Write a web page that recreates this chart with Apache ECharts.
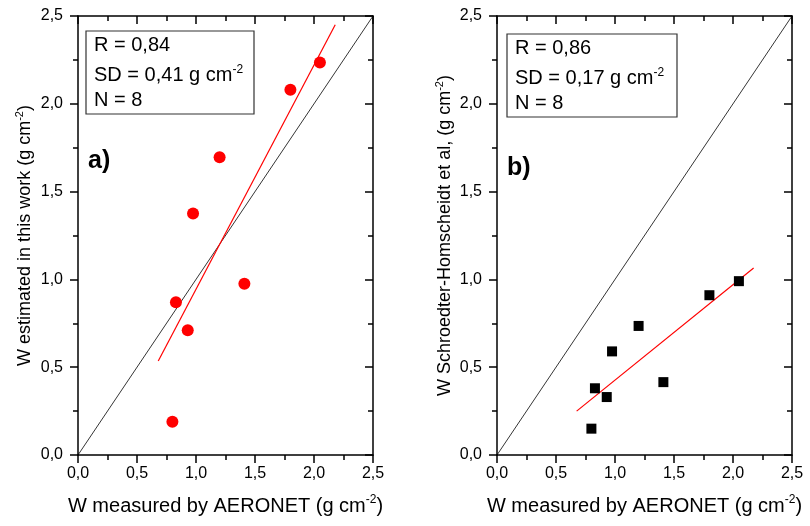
<!DOCTYPE html>
<html>
<head>
<meta charset="utf-8">
<script src="https://cdn.jsdelivr.net/npm/echarts@6/dist/echarts.min.js"></script>
<style>
html,body{margin:0;padding:0;background:#fff;}
#chart{width:810px;height:526px;}
</style>
</head>
<body>
<div id="chart"></div>
<script>
// ---- data ----
const xMeasured   = [0.80, 0.83, 0.93, 0.975, 1.20, 1.41, 1.80, 2.05];
const wThisWork   = [0.19, 0.87, 0.71, 1.375, 1.695, 0.975, 2.08, 2.235];
const wSchroedter = [0.15, 0.38, 0.33, 0.59, 0.735, 0.415, 0.91, 0.99];
const fitXA = [0.68, 2.18];
const fitYA = [0.535, 2.45];
const fitXB = [0.675, 2.175];
const fitYB = [0.25, 1.065];
const diagX = [0, 2.5];
const diagY = [0, 2.5];
const tickLabels = ['0,0', '0,5', '1,0', '1,5', '2,0', '2,5'];

const FONT = 'Liberation Sans, Arial, sans-serif';
const zip = (a, b) => a.map((v, i) => [v, b[i]]);
const fmt = v => tickLabels[Math.round(v / 0.5)] || '';

function baseAxis(gi) {
  return {
    gridIndex: gi, type: 'value', min: 0, max: 2.5, interval: 0.5,
    splitLine: {show: false},
    minorSplitLine: {show: false},
    axisLine: {show: true, onZero: false, lineStyle: {color: '#000', width: 1.5}}
  };
}
function tick(inside, len) {
  return {show: true, inside: inside, length: len, lineStyle: {color: '#000', width: 1.5}};
}
function minor() {
  return {show: true, splitNumber: 2, length: 5, lineStyle: {color: '#000', width: 1.5}};
}

function xLabelled(gi, name) {
  return Object.assign(baseAxis(gi), {
    position: 'bottom',
    axisTick: tick(false, 8),
    axisLabel: {show: true, formatter: fmt, color: '#000', fontSize: 16, fontFamily: FONT, margin: 11},
    name: name, nameLocation: 'middle', nameGap: 39,
    nameTextStyle: {
      color: '#000', fontFamily: FONT,
      rich: {
        m: {fontSize: 20, lineHeight: 24, fontFamily: FONT, color: '#000'},
        s: {fontSize: 12, lineHeight: 12, fontFamily: FONT, color: '#000', verticalAlign: 'top'}
      }
    }
  });
}
function xTop(gi) {
  return Object.assign(baseAxis(gi), {
    position: 'top', axisTick: tick(true, 8), minorTick: minor(), axisLabel: {show: false}
  });
}
function yLabelled(gi, name, gap) {
  return Object.assign(baseAxis(gi), {
    position: 'left',
    axisTick: tick(false, 8),
    axisLabel: {show: true, formatter: fmt, color: '#000', fontSize: 16, fontFamily: FONT, margin: 15},
    name: name, nameLocation: 'middle', nameGap: gap,
    nameTextStyle: {
      color: '#000', fontFamily: FONT,
      rich: {
        m: {fontSize: 18, lineHeight: 22, fontFamily: FONT, color: '#000'},
        s: {fontSize: 11, lineHeight: 11, fontFamily: FONT, color: '#000', verticalAlign: 'top'}
      }
    }
  });
}
function yRight(gi) {
  return Object.assign(baseAxis(gi), {
    position: 'right', axisTick: tick(true, 8), minorTick: minor(), axisLabel: {show: false}
  });
}
// overlay axes carrying the short ticks at quarter steps (bottom / left)
function minorOnly(gi, pos) {
  return Object.assign(baseAxis(gi), {
    position: pos, interval: 0.25,
    axisLine: {show: false},
    axisTick: tick(false, 5),
    axisLabel: {show: false}
  });
}

const xTitle = '{m|W measured by AERONET (g cm}{s|-2}{m|)}';
const yTitleA = '{m|W estimated in this work (g cm}{s|-2}{m|)}';
const yTitleB = '{m|W Schroedter-Homscheidt et al, (g cm}{s|-2}{m|)}';

function statBox(x, y, w, h, lines) {
  const rich = {
    m: {fontSize: 20, lineHeight: 24, fontFamily: FONT, fill: '#000'},
    s: {fontSize: 12, lineHeight: 12, fontFamily: FONT, fill: '#000', verticalAlign: 'top'}
  };
  return {
    type: 'group', silent: true,
    children: [
      {type: 'rect', shape: {x: x, y: y, width: w, height: h},
       style: {fill: '#fff', stroke: '#333', lineWidth: 1.2}},
      {type: 'text', x: x + 8, y: y + 14.5, style: {text: lines[0], rich: rich, verticalAlign: 'middle', align: 'left'}},
      {type: 'text', x: x + 8, y: y + 44.5, style: {text: lines[1], rich: rich, verticalAlign: 'middle', align: 'left'}},
      {type: 'text', x: x + 8, y: y + 69, style: {text: lines[2], rich: rich, verticalAlign: 'middle', align: 'left'}}
    ]
  };
}

const gA = {left: 78, top: 16, width: 295, height: 439};
const gB = {left: 497, top: 16, width: 295, height: 439};

const option = {
  animation: false,
  backgroundColor: '#fff',
  grid: [gA, gB, Object.assign({}, gA), Object.assign({}, gB)],
  xAxis: [xLabelled(0, xTitle), xTop(0), xLabelled(1, xTitle), xTop(1),
          minorOnly(2, 'bottom'), minorOnly(3, 'bottom')],
  yAxis: [yLabelled(0, yTitleA, 42), yRight(0), yLabelled(1, yTitleB, 41), yRight(1),
          minorOnly(2, 'left'), minorOnly(3, 'left')],
  series: [
    {type: 'line', xAxisIndex: 0, yAxisIndex: 0, data: zip(diagX, diagY), showSymbol: false,
     lineStyle: {color: '#000', width: 0.8}, z: 1},
    {type: 'line', xAxisIndex: 0, yAxisIndex: 0, data: zip(fitXA, fitYA), showSymbol: false,
     lineStyle: {color: '#ff0000', width: 1.2}, z: 2},
    {type: 'scatter', xAxisIndex: 0, yAxisIndex: 0, data: zip(xMeasured, wThisWork),
     symbol: 'circle', symbolSize: 12, itemStyle: {color: '#ff0000', opacity: 1}, z: 3},
    {type: 'line', xAxisIndex: 2, yAxisIndex: 2, data: zip(diagX, diagY), showSymbol: false,
     lineStyle: {color: '#000', width: 0.8}, z: 1},
    {type: 'line', xAxisIndex: 2, yAxisIndex: 2, data: zip(fitXB, fitYB), showSymbol: false,
     lineStyle: {color: '#ff0000', width: 1.2}, z: 2},
    {type: 'scatter', xAxisIndex: 2, yAxisIndex: 2, data: zip(xMeasured, wSchroedter),
     symbol: 'rect', symbolSize: 10, itemStyle: {color: '#000', opacity: 1}, z: 3}
  ],
  graphic: [
    statBox(86, 31, 168, 83, ['{m|R = 0,84}', '{m|SD = 0,41 g cm}{s|-2}', '{m|N = 8}']),
    statBox(507, 34, 170, 83, ['{m|R = 0,86}', '{m|SD = 0,17 g cm}{s|-2}', '{m|N = 8}']),
    {type: 'text', x: 88, y: 161, silent: true,
     style: {text: 'a)', fontSize: 25, fontWeight: 'bold', fontFamily: FONT, fill: '#000', verticalAlign: 'middle'}},
    {type: 'text', x: 507, y: 168, silent: true,
     style: {text: 'b)', fontSize: 25, fontWeight: 'bold', fontFamily: FONT, fill: '#000', verticalAlign: 'middle'}}
  ]
};

const chart = echarts.init(document.getElementById('chart'), null, {renderer: 'canvas'});
chart.setOption(option);
</script>
</body>
</html>
